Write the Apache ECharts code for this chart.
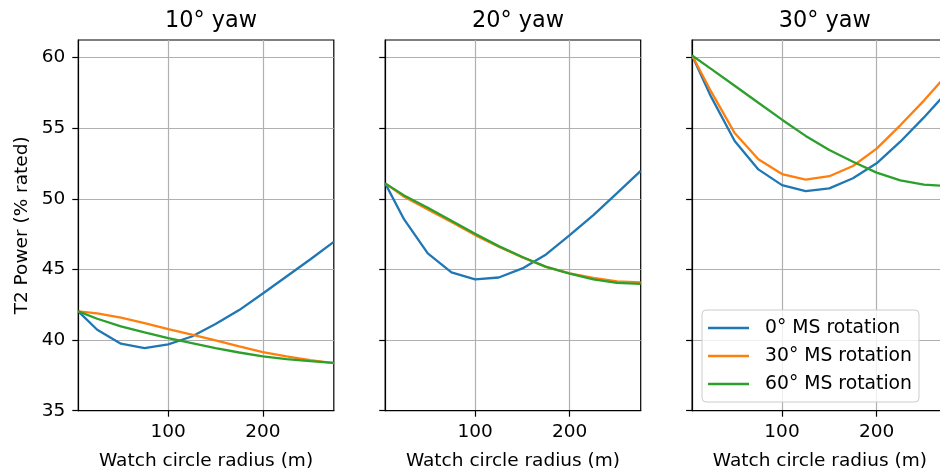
<!DOCTYPE html>
<html>
<head>
<meta charset="utf-8">
<script src="https://cdn.jsdelivr.net/npm/echarts@6/dist/echarts.min.js"></script>
<style>html,body{margin:0;padding:0;background:#fff}#c{width:940px;height:472px}</style>
</head>
<body>
<div id="c"></div>
<script>
const radius = [5, 25, 50, 75, 100, 125, 150, 175, 200, 225, 250, 275];
const panelTitles = ['10° yaw', '20° yaw', '30° yaw'];
const seriesNames = ['0° MS rotation', '30° MS rotation', '60° MS rotation'];
const xTicks = [100, 200];
const yTicks = [35, 40, 45, 50, 55, 60];

const yaw10_ms0  = [42.03, 40.73, 39.74, 39.43, 39.70, 40.25, 41.13, 42.12, 43.30, 44.50, 45.70, 46.95];
const yaw10_ms30 = [42.03, 41.89, 41.58, 41.20, 40.78, 40.38, 39.97, 39.55, 39.15, 38.84, 38.58, 38.37];
const yaw10_ms60 = [42.03, 41.51, 40.97, 40.54, 40.14, 39.79, 39.43, 39.12, 38.84, 38.65, 38.51, 38.39];

const yaw20_ms0  = [51.09, 48.54, 46.13, 44.79, 44.29, 44.43, 45.07, 46.06, 47.43, 48.85, 50.40, 51.98];
const yaw20_ms30 = [51.09, 50.14, 49.25, 48.35, 47.43, 46.60, 45.85, 45.18, 44.72, 44.40, 44.15, 44.08];
const yaw20_ms60 = [51.09, 50.24, 49.36, 48.44, 47.52, 46.65, 45.88, 45.18, 44.70, 44.30, 44.05, 43.98];

const yaw30_ms0  = [60.14, 57.23, 54.09, 52.08, 50.97, 50.55, 50.74, 51.45, 52.51, 54.04, 55.76, 57.60];
const yaw30_ms30 = [60.14, 57.60, 54.65, 52.80, 51.75, 51.35, 51.60, 52.32, 53.55, 55.20, 56.95, 58.85];
const yaw30_ms60 = [60.14, 59.20, 58.00, 56.80, 55.60, 54.45, 53.45, 52.62, 51.85, 51.30, 51.00, 50.90];

const panels = [
  [yaw10_ms0, yaw10_ms30, yaw10_ms60],
  [yaw20_ms0, yaw20_ms30, yaw20_ms60],
  [yaw30_ms0, yaw30_ms30, yaw30_ms60]
];
const colors = ['#1f77b4', '#ff7f0e', '#2ca02c'];

const FONT = 'DejaVu Sans';
const gridLeft = [78.3, 385.2, 692.1];
const gridW = 255.5, gridTop = 40, gridH = 370.7;

const grids = [], xAxes = [], yAxes = [], series = [], titles = [];
for (let i = 0; i < 3; i++) {
  grids.push({left: gridLeft[i], top: gridTop, width: gridW, height: gridH,
    show: true, borderColor: '#000', borderWidth: 1.2, containLabel: false,
    outerBoundsMode: 'none'});
  titles.push({text: panelTitles[i], left: gridLeft[i] + gridW / 2, top: 5, textAlign: 'center',
    textStyle: {fontFamily: FONT, fontSize: 22.4, fontWeight: 'normal', color: '#000'}});
  xAxes.push({type: 'value', gridIndex: i, min: 5, max: 275,
    axisLine: {show: true, onZero: false, lineStyle: {color: '#000', width: 1.2}},
    axisTick: {show: true, length: 6, customValues: xTicks, lineStyle: {color: '#000', width: 1.2}},
    axisLabel: {show: true, customValues: xTicks, margin: 12, color: '#000', fontFamily: FONT, fontSize: 18.5},
    splitLine: {show: true, lineStyle: {color: '#b0b0b0', width: 1.2}},
    name: 'Watch circle radius (m)', nameLocation: 'middle', nameGap: 41,
    nameTextStyle: {fontFamily: FONT, fontSize: 18.5, color: '#000'}});
  yAxes.push({type: 'value', gridIndex: i, min: 35, max: 61.24,
    axisLine: {show: true, onZero: false, lineStyle: {color: '#000', width: 1.2}},
    axisTick: {show: true, length: 6, customValues: yTicks, lineStyle: {color: '#000', width: 1.2}},
    axisLabel: {show: i === 0, customValues: yTicks, margin: 13, color: '#000', fontFamily: FONT, fontSize: 18.5},
    splitLine: {show: true, lineStyle: {color: '#b0b0b0', width: 1.2}},
    name: i === 0 ? 'T2 Power (% rated)' : '', nameLocation: 'middle', nameGap: 47, nameRotate: 90,
    nameTextStyle: {fontFamily: FONT, fontSize: 18.5, color: '#000'}});
  for (let k = 0; k < 3; k++) {
    series.push({type: 'line', name: seriesNames[k], xAxisIndex: i, yAxisIndex: i,
      data: radius.map((x, j) => [x, panels[i][k][j]]),
      symbol: 'none', showSymbol: false, clip: true, color: colors[k],
      lineStyle: {color: colors[k], width: 2.3}, z: 3 + k});
  }
}

const chart = echarts.init(document.getElementById('c'), null, {renderer: 'canvas'});
chart.setOption({
  animation: false,
  backgroundColor: '#fff',
  title: titles,
  grid: grids,
  xAxis: xAxes,
  yAxis: yAxes,
  legend: {
    data: seriesNames, orient: 'vertical', left: 702, top: 310,
    icon: 'rect', itemWidth: 41, itemHeight: 2.3, itemGap: 8,
    padding: [8, 7, 8, 6],
    backgroundColor: 'rgba(255,255,255,0.8)', borderColor: '#cccccc', borderWidth: 1, borderRadius: 4,
    textStyle: {fontFamily: FONT, fontSize: 18.8, color: '#000', lineHeight: 20, padding: [0, 0, 0, 11]},
    selectedMode: false
  },
  series: series
});
</script>
</body>
</html>
